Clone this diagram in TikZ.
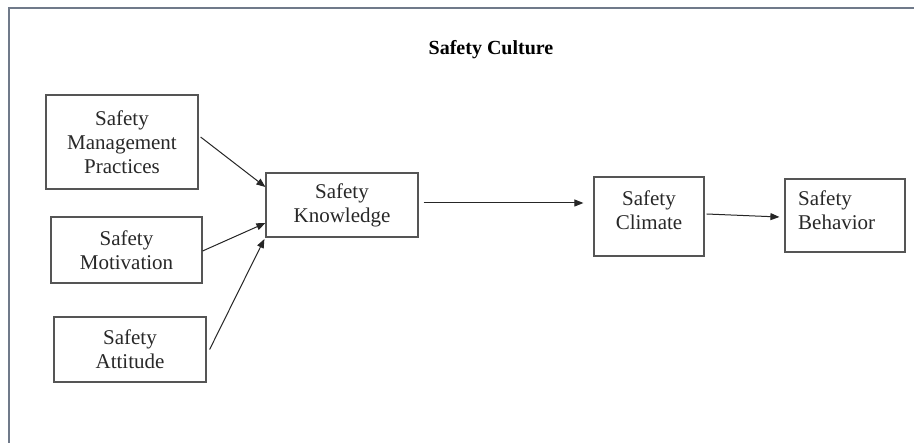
\documentclass[tikz,border=0pt]{standalone}
\usepackage{fontspec}
\setmainfont{Liberation Serif}
\usetikzlibrary{calc,arrows.meta}
\definecolor{framecol}{RGB}{112,122,138}
\definecolor{boxcol}{RGB}{85,85,85}
\definecolor{txtcol}{RGB}{40,40,40}
\tikzset{
  box/.style={draw=boxcol, line width=1.2pt, inner sep=0pt, align=center, text=txtcol,
    font=\fontsize{21}{24}\selectfont},
  lbl/.style={inner sep=0pt, text=txtcol, font=\fontsize{21}{24}\selectfont},
  conn/.style={draw=black!85, line width=1pt, -{Triangle[length=9pt,width=7pt]}}
}
\begin{document}
\begin{tikzpicture}[x=1pt,y=-1pt]
\useasboundingbox (0,0) rectangle (914,443);
\clip (0,0) rectangle (914,443);
\fill[white] (0,0) rectangle (914,443);
\draw[framecol, line width=2pt] (9,8) rectangle (940,470);

\node[inner sep=0pt, font=\fontsize{20}{23}\selectfont\bfseries, text=black] (title) at (491,50) {Safety Culture};

\node[box, minimum width=152pt, minimum height=94pt] (smp) at (122,142) {Safety\\Management\\Practices};
\node[box, minimum width=151pt, minimum height=66pt] (mot) at (126.5,250) {Safety\\Motivation};
\node[box, minimum width=152pt, minimum height=65pt] (att) at (130,349.5) {Safety\\Attitude};
\node[box, minimum width=152pt, minimum height=64pt] (k) at (342,205) {Safety\\Knowledge};
\node[box, minimum width=110pt, minimum height=79pt] (clim) at (649,216.5) {};
\node[lbl, align=center] (climt) at (649,210) {Safety\\Climate};
\node[box, minimum width=120pt, minimum height=73pt] (beh) at (845,215.5) {};
\node[lbl, align=left, anchor=west] (beht) at (798,210) {Safety\\Behavior};

\draw[conn] ($(smp.east)+(2,-5)$) -- ($(k.west)+(0,-18)$);
\draw[conn] ($(mot.east)+(0,1)$) -- ($(k.west)+(0,18)$);
\draw[conn] ($(att.east)+(3,0)$) -- ($(k.west)+(-1,34)$);
\draw[conn] ($(k.east)+(5,-2)$) -- ($(clim.west)+(-10,-13.5)$);
\draw[conn] ($(clim.east)+(2,-2.5)$) -- ($(beh.west)+(-5,1.5)$);
\end{tikzpicture}
\end{document}
